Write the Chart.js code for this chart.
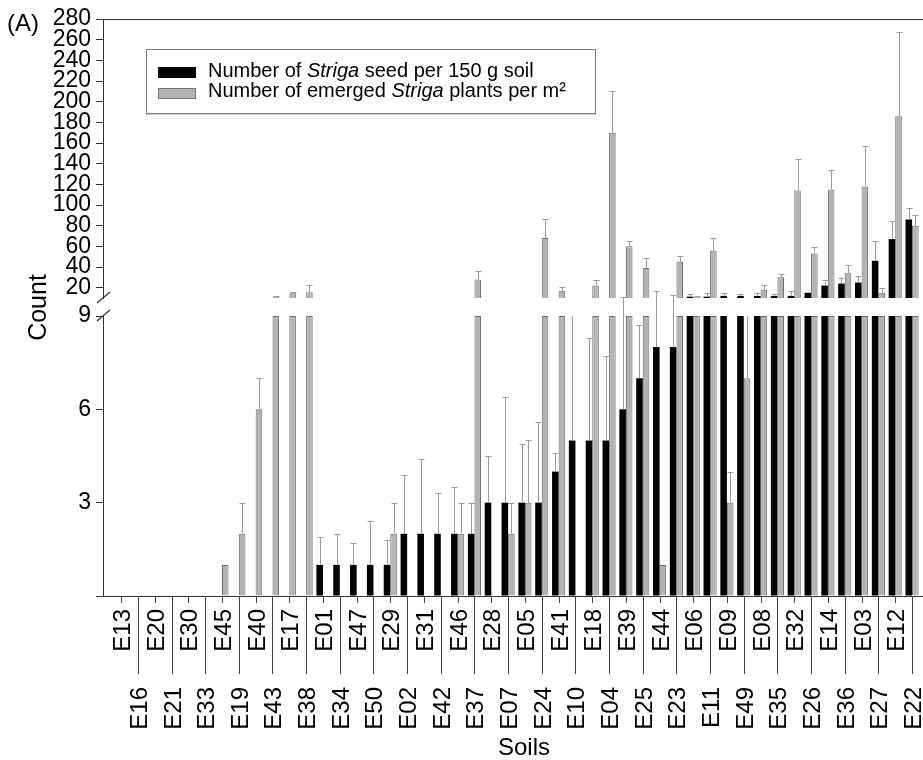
<!DOCTYPE html>
<html>
<head>
<meta charset="utf-8">
<script src="https://cdn.jsdelivr.net/npm/chart.js@4.4.0/dist/chart.umd.min.js"></script>
<style>
  body { margin: 0; background: #fff; font-family: "Liberation Sans", Arial, sans-serif; }
  #wrap { position: relative; width: 923px; height: 760px; }
  #legend { position: absolute; left: 146px; top: 49px; width: 448px; height: 63px;
            border: 1px solid #808080; background: #fff; box-shadow: 0 1px 0 #cfcfcf; }
  #legend .sw { position: absolute; left: 11px; width: 38px; height: 11px; box-sizing: border-box; }
  #legend .tx { position: absolute; left: 61px; font-size: 20px; line-height: 20px; white-space: nowrap; color: #000; }
</style>
</head>
<body>
<div id="wrap">
  <canvas id="chart"></canvas>
  <div id="legend">
    <div class="sw" style="top:17px;background:#000;"></div>
    <div class="tx" style="top:10px;">Number of <i>Striga</i> seed per 150 g soil</div>
    <div class="sw" style="top:38px;background:#b3b3b3;border:1px solid #777;"></div>
    <div class="tx" style="top:30px;">Number of emerged <i>Striga</i> plants per m²</div>
  </div>
</div>
<script>
// soils in plotting order (even index = upper label row, odd = lower row)
var soils = ['E13','E16','E20','E21','E30','E33','E45','E19','E40','E43','E17','E38',
             'E01','E34','E47','E50','E29','E02','E31','E42','E46','E37','E28','E07',
             'E05','E24','E41','E10','E18','E04','E39','E25','E44','E23','E06','E11',
             'E09','E49','E08','E35','E32','E26','E14','E36','E03','E27','E12','E22'];

// Striga seed per 150 g soil (black)
var seeds = [0,0,0,0,0,0,0,0,0,0,0,0,
             1,1,1,1,1,2,2,2,2,2,3,3,
             3,3,4,5,5,5,6,7,8,8,11.3,11.3,
             12,12,12,12,12,15,22,24,25,46,67,86];
var seedErr = [0,0,0,0,0,0,0,0,0,0,0,0,
               0.9,1,0.7,1.4,0.8,1.9,2.4,1.3,1.5,1,1.5,3.4,
               1.9,2.6,0.6,4.3,3.3,2.7,5.3,1.7,8.5,4.9,2.6,3.2,
               3.2,1.6,2.5,1.6,4.8,0,5.5,5.4,6.2,19,18,11];

// emerged Striga plants per m2 (grey)
var plants = [0,0,0,0,0,0,1,2,6,11,14.5,15.5,
              0,0,0,0,2,0,0,0,2,28,0,2,
              3,68,17,0,22,170,60,39,1,45,11.3,56,
              3,7,18,30,114,53,115,34,118,15,186,80];
var plantErr = [0,0,0,0,0,0,0,1,1,1,1.5,7,
                0,0,0,0,1,0,0,0,1,8,0,1,
                2,18,4,0,5,40,5,10,0,6,1,12,
                1,2.5,4.5,3,31,6.5,18.5,8,39,5,81,10];

var upperTicks = [20,40,60,80,100,120,140,160,180,200,220,240,260,280];
var lowerTicks = [0,3,6,9];
var breakLow = 9, breakHigh = 10, topValue = 280;

var FONT = '"Liberation Sans", Arial, sans-serif';
Chart.defaults.font.family = FONT;
Chart.defaults.color = '#000';

function lowPart(arr) {
    return arr.map(function (v, i) { return {x: i, y: v > 0 ? Math.min(v, breakLow) : null}; });
}
function highPart(arr) {
    return arr.map(function (v, i) { return {x: i, y: v > breakHigh ? v : null}; });
}

var brokenAxis = {
    id: 'brokenAxis',
    afterDatasetsDraw: function (chart) {
        var ctx = chart.ctx, lo = chart.scales.yLow, hi = chart.scales.yHigh;
        var yOf = function (v) {
            if (v <= breakLow) return lo.getPixelForValue(v);
            if (v >= breakHigh) return hi.getPixelForValue(v);
            return null;
        };
        ctx.save();
        ctx.strokeStyle = '#9a9a9a';
        ctx.lineWidth = 1;
        [[0, seeds, seedErr], [1, plants, plantErr]].forEach(function (set) {
            var meta = chart.getDatasetMeta(set[0]);
            set[1].forEach(function (v, i) {
                var e = set[2][i];
                if (!v || !e) return;
                var bx = Math.round(meta.data[i].x) + 0.5;
                var y0 = yOf(v);
                if (y0 === null) y0 = lo.getPixelForValue(breakLow);
                var y1 = yOf(v + e);
                ctx.beginPath();
                ctx.moveTo(bx, y0);
                if (y1 === null) {
                    // error runs into the axis break: stop at the cut
                    ctx.lineTo(bx, lo.getPixelForValue(breakLow));
                    ctx.stroke();
                    return;
                }
                y1 = Math.round(y1) + 0.5;
                ctx.lineTo(bx, y1);
                ctx.moveTo(bx - 3, y1);
                ctx.lineTo(bx + 3, y1);
                ctx.stroke();
            });
        });
        ctx.restore();
    },
    afterDraw: function (chart) {
        var ctx = chart.ctx, area = chart.chartArea, x = chart.scales.x;
        var axisY = area.bottom;
        ctx.save();
        ctx.strokeStyle = '#444';
        ctx.lineWidth = 1;
        ctx.fillStyle = '#000';
        ctx.font = '24px ' + FONT;
        ctx.textAlign = 'right';
        ctx.textBaseline = 'alphabetic';
        soils.forEach(function (s, i) {
            var px = Math.round(x.getPixelForValue(i)) + 0.5;
            var lower = i % 2 === 1;
            ctx.beginPath();
            ctx.moveTo(px, axisY);
            ctx.lineTo(px, axisY + (lower ? 78 : 7));
            ctx.stroke();
            ctx.save();
            ctx.translate(px, axisY + (lower ? 91 : 13));
            ctx.rotate(-Math.PI / 2);
            ctx.fillText(s, 0, 8.6);
            ctx.restore();
        });

        // top frame line
        ctx.strokeStyle = '#333';
        ctx.beginPath();
        ctx.moveTo(area.left, Math.round(area.top) + 0.5);
        ctx.lineTo(area.right, Math.round(area.top) + 0.5);
        ctx.stroke();

        // break marks
        var cuts = [chart.scales.yHigh.bottom, chart.scales.yLow.top];
        ctx.lineWidth = 1.2;
        cuts.forEach(function (cy) {
            ctx.beginPath();
            ctx.moveTo(area.left - 6, cy + 5);
            ctx.lineTo(area.left + 7, cy - 6);
            ctx.stroke();
        });

        // titles
        ctx.textBaseline = 'alphabetic';
        ctx.font = '24px ' + FONT;
        ctx.textAlign = 'center';
        ctx.fillText('Soils', 524, 755);
        ctx.save();
        ctx.font = '25px ' + FONT;
        ctx.translate(45.5, (area.top + area.bottom) / 2);
        ctx.rotate(-Math.PI / 2);
        ctx.fillText('Count', 0, 0);
        ctx.restore();
        ctx.textAlign = 'left';
        ctx.fillText('(A)', 7, 31);
        ctx.restore();
    }
};

var yCommon = {
    type: 'linear',
    position: 'left',
    stack: 'count',
    ticks: {autoSkip: false, font: {size: 23}, color: '#000', padding: 5},
    grid: {drawOnChartArea: false, tickLength: 7, color: '#333'},
    border: {color: '#333'},
    afterFit: function (s) { s.width = 103; }
};

new Chart(document.getElementById('chart'), {
    type: 'bar',
    data: {
        datasets: [
            {label: 'seed', data: lowPart(seeds), yAxisID: 'yLow', stack: 'seed',
             backgroundColor: '#000', borderWidth: 0},
            {label: 'plants', data: lowPart(plants), yAxisID: 'yLow', stack: 'plant',
             backgroundColor: '#b3b3b3', borderColor: '#6e6e6e', borderWidth: 1},
            {label: 'seed high', data: highPart(seeds), yAxisID: 'yHigh', stack: 'seed',
             base: breakHigh, backgroundColor: '#000', borderWidth: 0},
            {label: 'plants high', data: highPart(plants), yAxisID: 'yHigh', stack: 'plant',
             base: breakHigh, backgroundColor: '#b3b3b3', borderColor: '#6e6e6e', borderWidth: 1}
        ]
    },
    options: {
        responsive: true,
        maintainAspectRatio: false,
        animation: false,
        categoryPercentage: 0.78,
        barPercentage: 1,
        layout: {padding: {top: 19, left: 0, right: 0, bottom: 0}},
        plugins: {legend: {display: false}, tooltip: {enabled: false}},
        scales: {
            x: {
                type: 'linear',
                offset: false,
                min: -1.07,
                max: 47.65,
                afterBuildTicks: function (s) { s.ticks = soils.map(function (_, i) { return {value: i}; }); },
                ticks: {display: false},
                grid: {display: false, offset: false},
                border: {color: '#333'},
                afterFit: function (s) { s.height = 164; }
            },
            yHigh: Object.assign({}, yCommon, {
                stackWeight: 279, weight: 3, min: breakHigh, max: topValue,
                afterBuildTicks: function (s) { s.ticks = upperTicks.map(function (v) { return {value: v}; }); }
            }),
            yGap: {
                type: 'linear', position: 'left', stack: 'count', stackWeight: 18, weight: 2,
                min: 0, max: 1,
                ticks: {display: false}, grid: {display: false}, border: {display: false},
                afterFit: function (s) { s.width = 103; }
            },
            yLow: Object.assign({}, yCommon, {
                stackWeight: 280, weight: 1, min: 0, max: breakLow,
                afterBuildTicks: function (s) { s.ticks = lowerTicks.map(function (v) { return {value: v}; }); },
                ticks: Object.assign({}, yCommon.ticks, {
                    callback: function (v) { return v === 0 ? '' : v; }
                })
            })
        }
    },
    plugins: [brokenAxis]
});
</script>
</body>
</html>
